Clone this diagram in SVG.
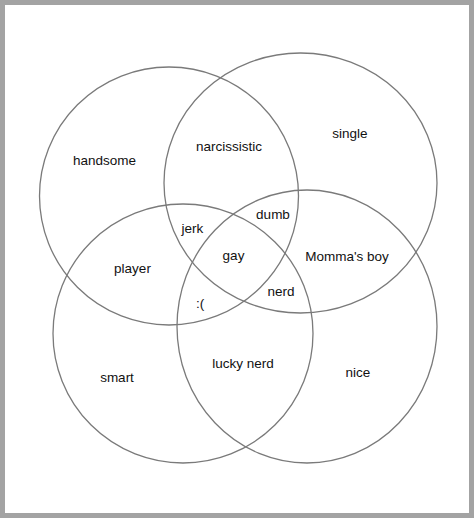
<svg xmlns="http://www.w3.org/2000/svg" width="474" height="518" viewBox="0 0 474 518">
<style>
.set{fill:none;stroke:#7a7a7a;stroke-width:1.3}
.lbl{font-family:"Liberation Sans",Arial,sans-serif;font-size:13.5px;fill:#111;text-anchor:middle}
</style>
<rect x="0" y="0" width="474" height="518" fill="#a3a3a3"/>
<rect x="5" y="5" width="464" height="508" fill="#fff"/>
<g id="connectors"></g>
<g id="set-handsome"><ellipse class="set" cx="169" cy="196" rx="129.5" ry="129"/></g>
<g id="set-single"><ellipse class="set" cx="300.5" cy="183" rx="136.5" ry="130"/></g>
<g id="set-smart"><ellipse class="set" cx="183" cy="333.5" rx="130" ry="129.5"/></g>
<g id="set-nice"><ellipse class="set" cx="307" cy="326.5" rx="130" ry="136.5"/></g>
<g id="labels">
<text class="lbl" x="104.5" y="165">handsome</text>
<text class="lbl" x="229" y="151">narcissistic</text>
<text class="lbl" x="350" y="137.5">single</text>
<text class="lbl" x="192.5" y="232.5">jerk</text>
<text class="lbl" x="273" y="219">dumb</text>
<text class="lbl" x="233.5" y="260">gay</text>
<text class="lbl" x="132.5" y="273">player</text>
<text class="lbl" x="347" y="260.5">Momma's boy</text>
<text class="lbl" x="200" y="308">:(</text>
<text class="lbl" x="281" y="296">nerd</text>
<text class="lbl" x="117" y="382">smart</text>
<text class="lbl" x="243" y="368">lucky nerd</text>
<text class="lbl" x="358" y="377">nice</text>
</g>
</svg>
